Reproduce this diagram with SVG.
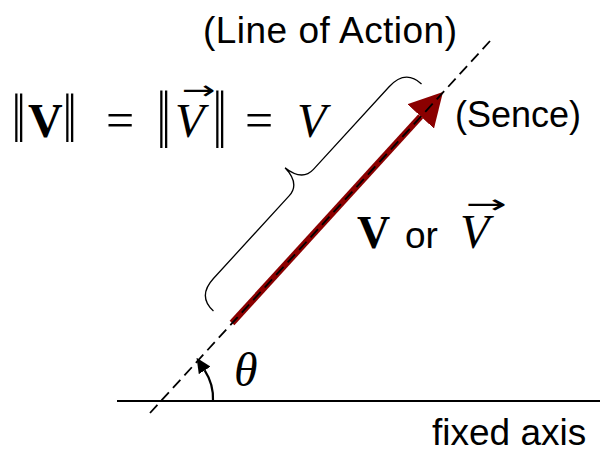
<svg xmlns="http://www.w3.org/2000/svg" width="602" height="454" viewBox="0 0 602 454">
<style>
.sans{font-family:"Liberation Sans",Arial,sans-serif;fill:#000}
.serif{font-family:"Liberation Serif","DejaVu Serif",serif;fill:#000}
.arrow{font-family:"DejaVu Sans",sans-serif;fill:#000}
.it{font-style:italic}
.bd{font-weight:bold}
.thin{fill:none;stroke:#000}
</style>
<defs>
<marker id="redHead" markerUnits="userSpaceOnUse" viewBox="0 0 33 36" refX="0" refY="18" markerWidth="33" markerHeight="36" orient="auto">
<path d="M0,0 L33,18 L0,36 z" fill="#8B0000"/>
</marker>
<marker id="blackHead" markerUnits="userSpaceOnUse" viewBox="0 0 15 14" refX="0" refY="7" markerWidth="15" markerHeight="14" orient="auto">
<path d="M0,0 L15,7 L0,14 z" fill="#000"/>
</marker>
</defs>
<rect width="602" height="454" fill="#fff"/>

<g id="connectors">
<line id="axis" x1="117" y1="401" x2="600" y2="401" stroke="#000" stroke-width="2"/>
<line id="vector" x1="232" y1="323" x2="420.7" y2="116.4" stroke="#8B0000" stroke-width="6.5" marker-end="url(#redHead)"/>
<line id="line-of-action" x1="150" y1="413" x2="490" y2="41" stroke="#000" stroke-width="1.8" stroke-dasharray="11 6"/>
<path id="angle-arc" d="M213,401 A52,52 0 0 0 204.7,370.4" class="thin" stroke-width="2.2" marker-end="url(#blackHead)"/>
<path id="brace" transform="translate(317.5,197.5) rotate(-47.5)" class="thin" stroke-width="1.3" d="M-154,0 C-154,-14 -146,-22 -130,-22 L-18,-22 C-6,-22 -1,-30 0,-44 C1,-30 6,-22 18,-22 L130,-22 C146,-22 154,-14 154,0"/>
</g>

<g id="label-line-of-action">
<text class="sans" x="203" y="43" font-size="37" textLength="254">(Line of Action)</text>
</g>
<g id="label-sence">
<text class="sans" x="455" y="127" font-size="36">(Sence)</text>
</g>
<g id="label-fixed-axis">
<text class="sans" x="432" y="445" font-size="37">fixed axis</text>
</g>
<g id="label-theta">
<text class="serif it" x="234" y="386" font-size="48">θ</text>
</g>
<g id="label-magnitude">
<text class="serif" transform="translate(12,142) scale(1,1.45)" font-size="48">‖</text>
<text class="serif bd" x="28" y="137" font-size="48">V</text>
<text class="serif" transform="translate(63,142) scale(1,1.45)" font-size="48">‖</text>
<text class="serif" x="106" y="137" font-size="50">=</text>
<text class="serif" transform="translate(157,148) scale(1,1.72)" font-size="48">‖</text>
<text class="serif it" x="175" y="137" font-size="48">V</text>
<text class="arrow" transform="translate(182,99) scale(1.55,1)" font-size="26">→</text>
<text class="serif" transform="translate(213,148) scale(1,1.72)" font-size="48">‖</text>
<text class="serif" x="245" y="137" font-size="50">=</text>
<text class="serif it" x="297" y="137" font-size="48">V</text>
</g>
<g id="label-vector">
<text class="serif bd" x="357" y="248" font-size="46">V</text>
<text class="sans" x="405" y="248" font-size="37">or</text>
<text class="serif it" x="460" y="248" font-size="48">V</text>
<text class="arrow" transform="translate(466,213) scale(1.9,1)" font-size="26">→</text>
</g>
</svg>
